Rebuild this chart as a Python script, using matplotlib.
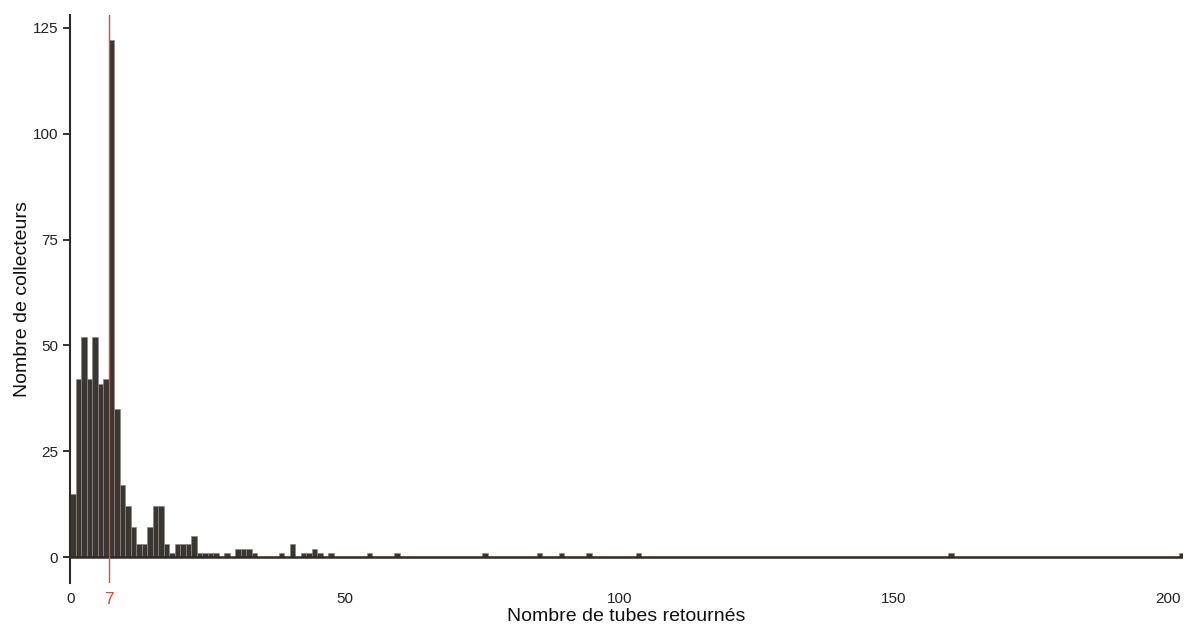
import numpy as np
import matplotlib
matplotlib.use("Agg")
from matplotlib import pyplot as plt

plt.rcParams['font.family'] = ['Liberation Sans', 'DejaVu Sans']

# number of tubes returned -> number of collectors (non-zero bins only)
tubes = [0, 1, 2, 3, 4, 5, 6, 7, 8, 9, 10, 11, 12, 13, 14, 15, 16, 17, 18, 19,
         20, 21, 22, 23, 24, 25, 26, 28, 30, 31, 32, 33, 38, 40, 42, 43, 44, 45,
         47, 54, 59, 75, 85, 89, 94, 103, 160, 202]
collectors = [15, 42, 52, 42, 52, 41, 42, 122, 35, 17, 12, 7, 3, 3, 7, 12, 12, 3, 1, 3,
              3, 3, 5, 1, 1, 1, 1, 1, 2, 2, 2, 1, 1, 3, 1, 1, 2, 1,
              1, 1, 1, 1, 1, 1, 1, 1, 1, 1]
ref_value = 7
xticks = [0, 50, 100, 150, 200]
yticks = [0, 25, 50, 75, 100, 125]

bins = np.arange(0, max(tubes) + 1)
counts = np.zeros(len(bins))
counts[tubes] = collectors

fig = plt.figure(figsize=(11.84, 6.28), dpi=100)
ax = fig.add_axes([0.0595, 0.0717, 0.9395, 0.905])

ax.bar(bins, counts, width=1, align='edge', color='#3a3632',
       edgecolor='#8c8782', linewidth=0.5)
# zero line left by the empty bins
ax.plot([0, bins[-1] + 1], [0, 0], color='#2e2a27', lw=1.8, zorder=3)

ax.axvline(ref_value, color='#da4a34', lw=1.0, zorder=4)

ax.set_xlim(0, 202.7)
ax.set_ylim(-6.1, 128.1)

ax.set_xticks(xticks + [ref_value])
ax.set_xticklabels([str(t) for t in xticks] + [str(ref_value)])
ax.set_yticks(yticks)

ax.tick_params(axis='x', length=0, pad=6.5, labelsize=11, colors='#222222')
ax.tick_params(axis='y', length=5, width=1.3, pad=4, labelsize=11,
               colors='#222222')
red_lbl = ax.get_xticklabels()[-1]
red_lbl.set_color('#da4a34')
red_lbl.set_fontsize(12.5)

for s in ['top', 'right', 'bottom']:
    ax.spines[s].set_visible(False)
ax.spines['left'].set_linewidth(1.5)
ax.spines['left'].set_color('#2e2a27')

ax.set_xlabel('Nombre de tubes retournés', fontsize=14, labelpad=1,
              color='#111111')
ax.set_ylabel('Nombre de collecteurs', fontsize=14, labelpad=1,
              color='#111111')

plt.savefig('out.png', dpi=100)
